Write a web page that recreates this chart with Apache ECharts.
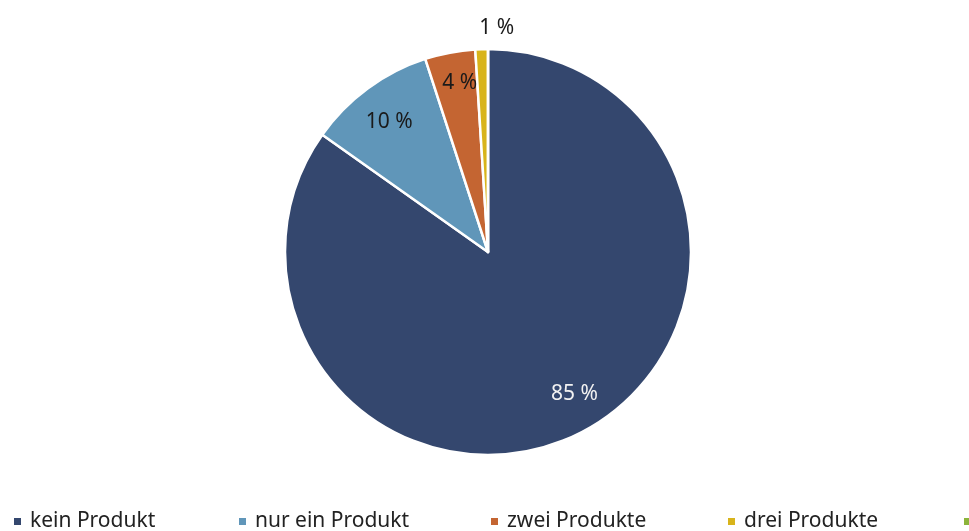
<!DOCTYPE html>
<html style="height: 100%">
   <head>
       <meta charset="utf-8">
       <script type="text/javascript" src="https://cdn.jsdelivr.net/npm/echarts@6/dist/echarts.min.js"></script>
   </head>
   <body style="height: 100%; width:100%; margin: 0">
       <div id="pie_chart" style="width: 969px;height:531px;"></div>

       <script type="text/javascript">

// data
var categories = ['kein Produkt', 'nur ein Produkt', 'zwei Produkte', 'drei Produkte', 'vier Produkte'];
var shares = [84.8, 10.2, 4.0, 1.0, 0];
var colors = ['#34476e', '#6096b9', '#c46532', '#d8b41b', '#8cb43b'];

// left edge of each legend marker
var legendLeft = [12, 237, 489, 726, 962];

var myChart = echarts.init(document.getElementById('pie_chart'));
var fontName = '"Noto Sans", "Open Sans", sans-serif';

// small nudges of the data labels
var labelNudge = [[10, -6], [0, 4], [3, -5], [14, -58], [0, 0]];

var data = [];
var labelData = [];
for (var i = 0; i < categories.length; i++) {
    data.push({ name: categories[i], value: shares[i], itemStyle: { color: colors[i] } });
    labelData.push({
        name: categories[i],
        value: shares[i],
        label: {
            show: shares[i] > 0,
            color: i == 0 ? '#f2f2f2' : '#1a1a1a',
            offset: labelNudge[i]
        }
    });
}

var legends = [];
for (var j = 0; j < categories.length; j++) {
    legends.push({
        data: [categories[j]],
        left: legendLeft[j],
        top: 511,
        padding: 0,
        itemWidth: 9,
        itemHeight: 9,
        icon: 'rect',
        selectedMode: false,
        textStyle: { fontFamily: fontName, fontSize: 21, color: '#222', padding: [0, 0, 0, 3] }
    });
}

var option = {
    animation: false,
    legend: legends,
    series: [
        {
            type: 'pie',
            center: [488, 252],
            radius: [0, 203],
            startAngle: 90,
            clockwise: true,
            itemStyle: { borderColor: '#fff', borderWidth: 2.5 },
            label: { show: false },
            labelLine: { show: false },
            emphasis: { disabled: true },
            data: data
        },
        {
            // transparent ring that only carries the labels
            type: 'pie',
            center: [488, 252],
            radius: [124, 203],
            startAngle: 90,
            clockwise: true,
            silent: true,
            itemStyle: { color: 'rgba(0,0,0,0)' },
            label: {
                position: 'inside',
                fontFamily: fontName,
                fontSize: 21,
                formatter: function (p) { return Math.round(p.value) + ' %'; }
            },
            labelLine: { show: false },
            data: labelData
        }
    ]
};
myChart.setOption(option);

       </script>
   </body>
</html>
